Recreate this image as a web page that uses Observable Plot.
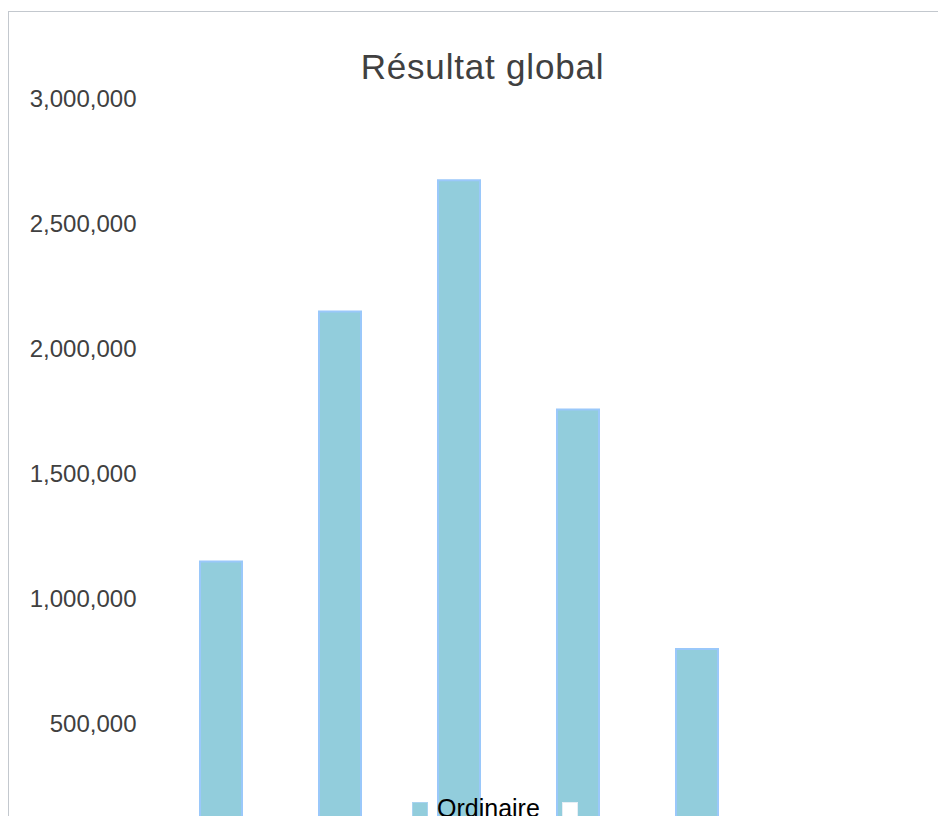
<!DOCTYPE html>
<html>
<head>
<meta charset="utf-8">
<script src="https://cdn.jsdelivr.net/npm/d3@7"></script>
<script src="https://cdn.jsdelivr.net/npm/@observablehq/plot@0.6"></script>
<style>
  html, body { margin: 0; padding: 0; background: #fff; overflow: hidden; }
  #wrap { position: relative; width: 938px; height: 816px; font-family: "Liberation Sans", Arial, sans-serif; }
  #frame { position: absolute; left: 8px; top: 11px; width: 940px; height: 900px; border-left: 1px solid #c3c8ce; border-top: 1px solid #c3c8ce; box-sizing: border-box; }
  #title { position: absolute; left: 0; top: 49px; width: 965px; text-align: center; font-size: 35px; line-height: 35px; letter-spacing: 0.8px; color: #404040; }
  #chart { position: absolute; left: 0; top: 0; }
  .lg-sw { position: absolute; width: 16px; height: 16px; box-sizing: border-box; }
  .lg-tx { position: absolute; font-size: 25px; line-height: 25px; color: #000; white-space: nowrap; }
</style>
</head>
<body>
<div id="wrap">
  <div id="frame"></div>
  <div id="chart"></div>
  <div id="title">Résultat global</div>
  <div id="legend"></div>
</div>
<script>
// Data
const categories = ["1", "2", "3", "4", "5"];
const values = [1150000, 2150000, 2675000, 1758000, 800000];
const yTicks = [500000, 1000000, 1500000, 2000000, 2500000, 3000000];
const seriesNames = ["Ordinaire", ""];
const seriesColors = ["#92cddc", "#ffffff"];

const data = categories.map((c, i) => ({category: c, value: values[i]}));

const chart = Plot.plot({
  width: 938,
  height: 900,
  marginTop: 99,
  marginBottom: 51,
  marginLeft: 160,
  marginRight: 40,
  style: {fontSize: "24px", fontFamily: "'Liberation Sans', Arial, sans-serif", color: "#404040", background: "transparent"},
  x: {domain: categories, range: [121.3, 797], padding: 0.65, axis: null},
  y: {domain: [0, 3000000], ticks: yTicks, tickFormat: d3.format(","), tickSize: 0, tickPadding: 24, label: null},
  marks: [
    Plot.barY(data, {x: "category", y: "value", fill: seriesColors[0], stroke: "#9ac8fa", strokeWidth: 2}),
    Plot.axisY({ticks: yTicks, tickFormat: d3.format(","), tickSize: 0, tickPadding: 24, label: null})
  ]
});
document.getElementById("chart").appendChild(chart);

// Legend (overlapping bottom of the plot, as in the reference)
const legend = document.getElementById("legend");
const legendItems = [
  {name: seriesNames[0], color: seriesColors[0], swX: 412, txX: 437},
  {name: seriesNames[1], color: seriesColors[1], swX: 562, txX: 584}
];
legendItems.forEach((it, i) => {
  const sw = document.createElement("div");
  sw.className = "lg-sw";
  sw.style.left = it.swX + "px";
  sw.style.top = "802px";
  sw.style.background = it.color;
  sw.style.border = i === 0 ? "1px solid #a9d3f0" : "1px solid #e6eef5";
  legend.appendChild(sw);
  const tx = document.createElement("div");
  tx.className = "lg-tx";
  tx.style.left = it.txX + "px";
  tx.style.top = "796px";
  tx.textContent = it.name;
  legend.appendChild(tx);
});
</script>
</body>
</html>
